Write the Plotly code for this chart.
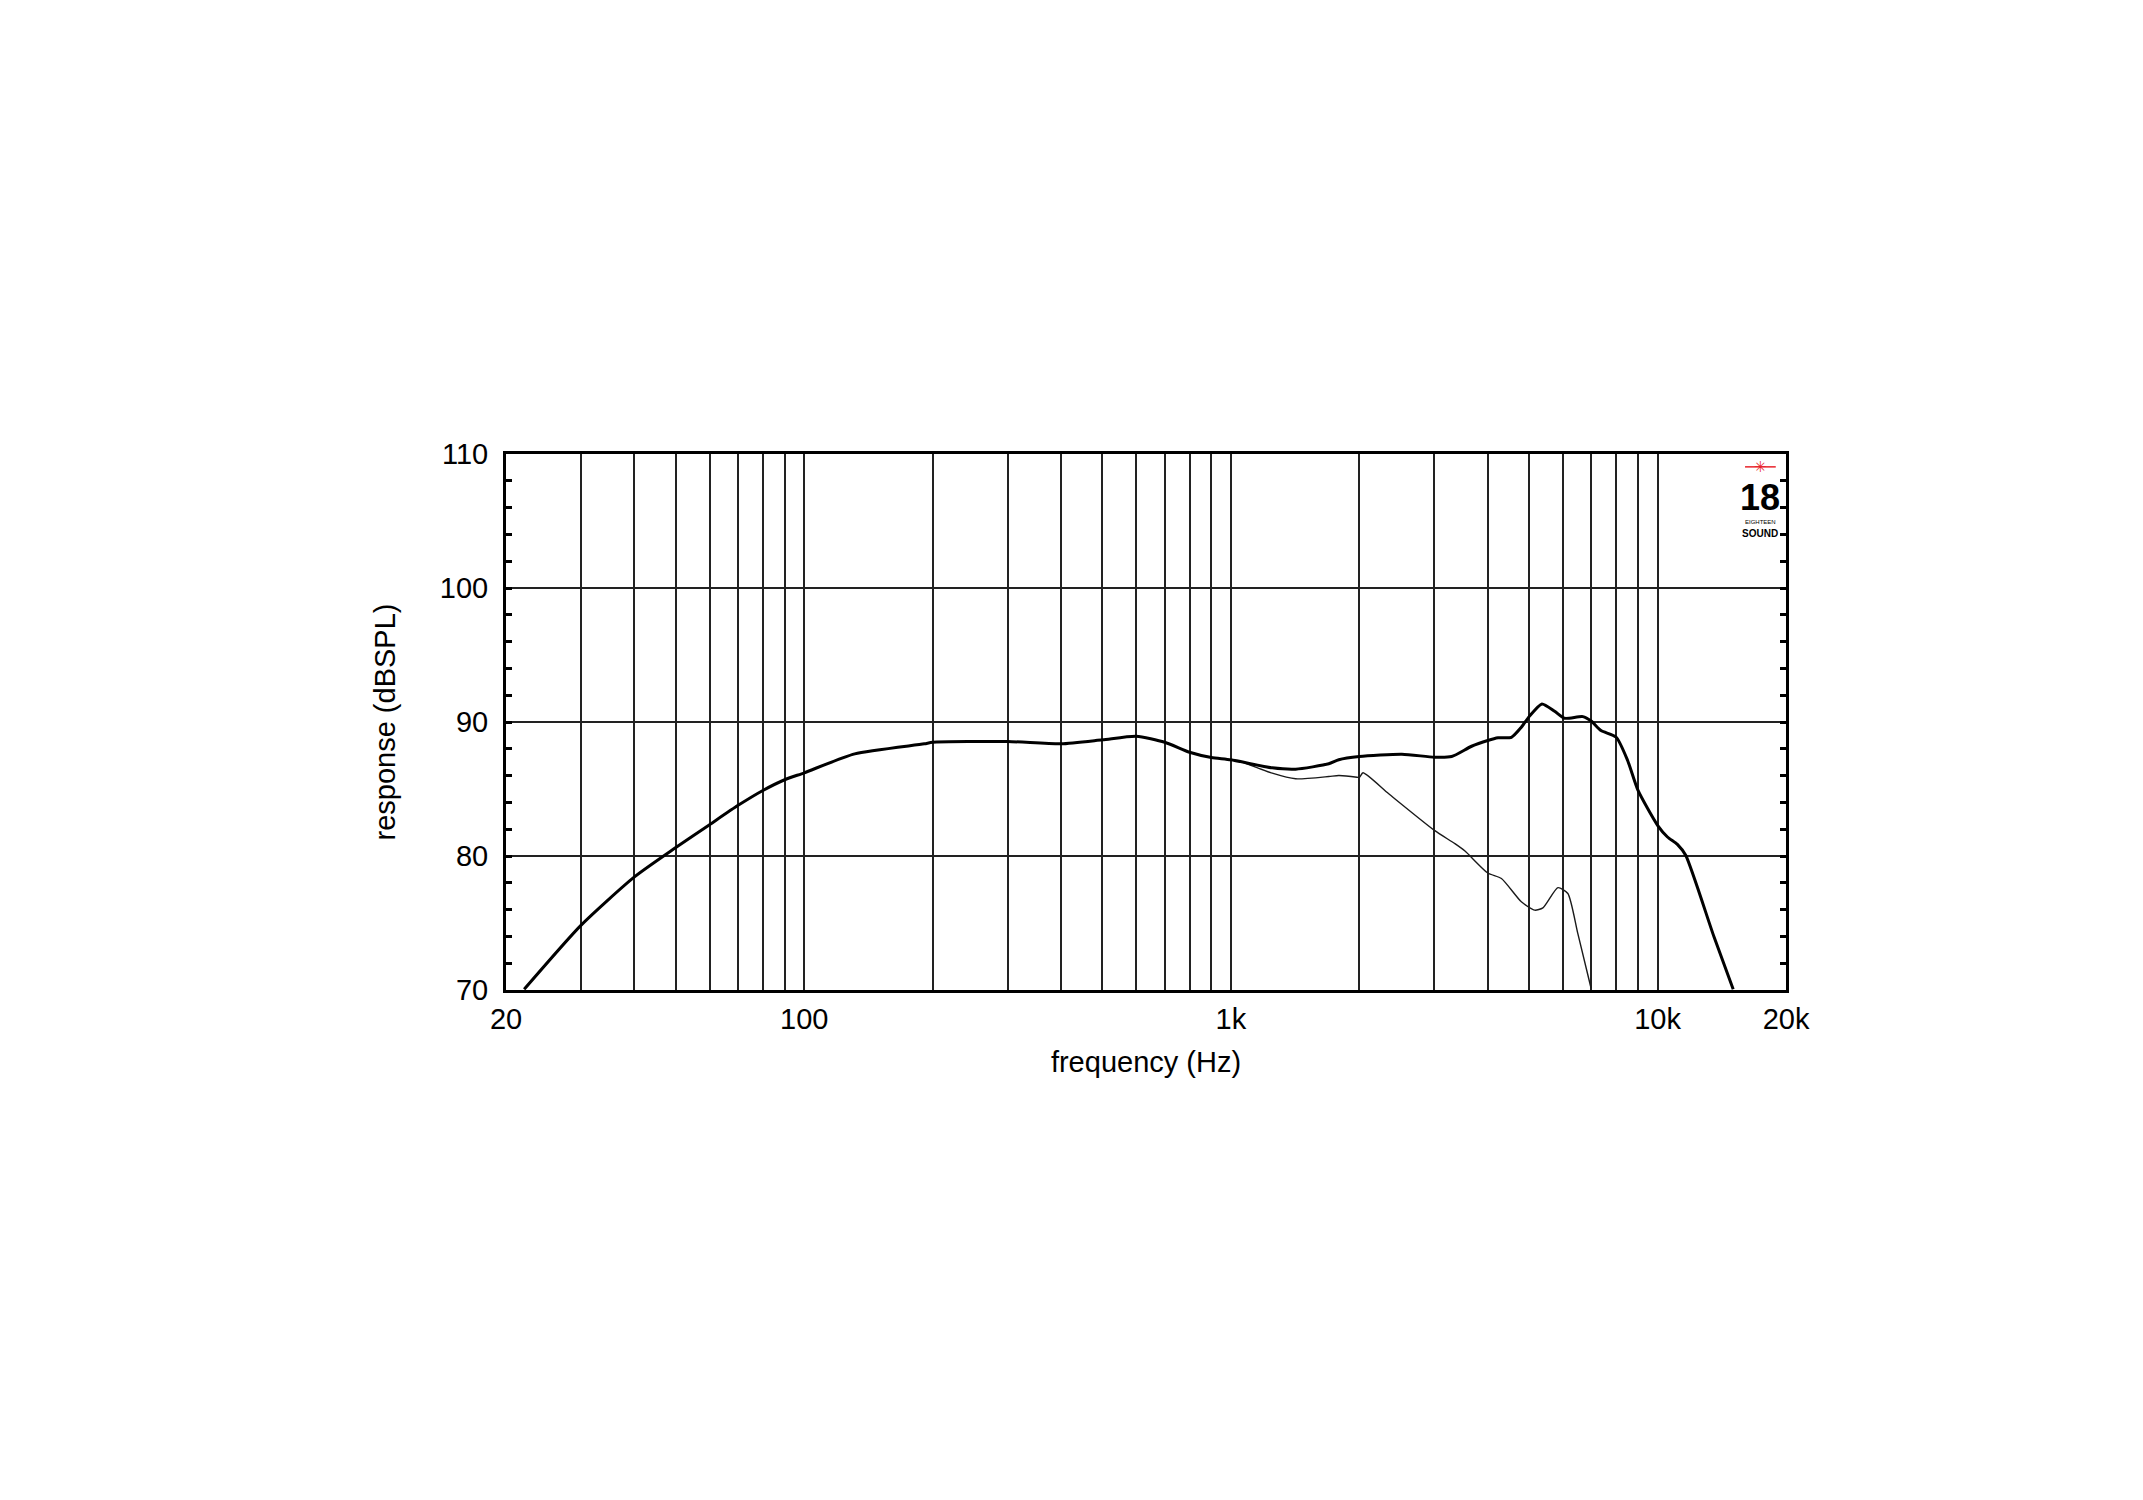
import plotly.graph_objects as go

# ---- data ----
freq_main = [22.06, 30, 40, 50, 60, 70, 80, 90, 100, 131.3, 191.2, 200, 300, 400, 500, 600, 700,
             800, 900, 1000, 1250, 1418, 1696, 1790, 2000, 2517, 3000, 3291, 3665, 4000, 4229,
             4544, 4794, 5000, 5358, 5738, 6054, 6680, 7000, 7370, 8000, 8508, 9000, 10000,
             10550, 11130, 11640, 13560, 15040]
spl_main = [70.05, 74.84, 78.44, 80.63, 82.34, 83.78, 84.89, 85.69, 86.21, 87.62, 88.37, 88.49,
            88.54, 88.37, 88.67, 88.94, 88.49, 87.74, 87.35, 87.18, 86.58, 86.48, 86.88, 87.18,
            87.42, 87.60, 87.37, 87.42, 88.19, 88.62, 88.82, 88.86, 89.61, 90.40, 91.35, 90.80,
            90.28, 90.40, 90.05, 89.36, 88.86, 87.13, 84.89, 82.29, 81.42, 80.87, 80.05, 73.97,
            70.05]

freq_thin = [1046, 1250, 1418, 1696, 1790, 1975, 2000, 2040, 2344, 3000, 3350, 3537, 4000, 4306,
             4794, 5152, 5386, 5842, 6163, 6502, 6985]
spl_thin = [87.10, 86.18, 85.76, 85.93, 86.01, 85.88, 85.85, 86.21, 84.64, 81.91, 80.92, 80.37,
            78.73, 78.32, 76.58, 75.96, 76.13, 77.64, 77.20, 74.22, 70.13]

x_tickvals = [20, 100, 1000, 10000, 20000]
x_ticktext = ["20", "100", "1k", "10k", "20k"]
x_gridvals = [30, 40, 50, 60, 70, 80, 90, 200, 300, 400, 500, 600, 700, 800, 900,
              2000, 3000, 4000, 5000, 6000, 7000, 8000, 9000]
y_tickvals = [70, 80, 90, 100, 110]

FONT = "Liberation Sans, Arial, Helvetica, sans-serif"
NARROW = "Liberation Sans Narrow, Arial Narrow, Liberation Sans, sans-serif"

fig = go.Figure()
fig.add_trace(go.Scatter(x=freq_thin, y=spl_thin, mode="lines",
                         line=dict(color="#1a1a1a", width=1.4, shape="spline", smoothing=0.6),
                         showlegend=False, hoverinfo="skip"))
fig.add_trace(go.Scatter(x=freq_main, y=spl_main, mode="lines",
                         line=dict(color="#000000", width=3, shape="spline", smoothing=0.6),
                         showlegend=False, hoverinfo="skip"))

fig.update_layout(
    width=2143, height=1500,
    paper_bgcolor="white", plot_bgcolor="white",
    margin=dict(l=498, r=365, t=446, b=518, autoexpand=False),
    font=dict(family=FONT, size=29, color="black"),
    xaxis=dict(
        type="log", range=[1.30103, 4.30103],
        tickmode="array", tickvals=x_tickvals, ticktext=x_ticktext,
        showgrid=True, gridcolor="#222222", gridwidth=1.5,
        ticks="", ticklabelstandoff=1,
        showline=True, linecolor="black", linewidth=3, mirror=True,
        minor=dict(tickmode="array", tickvals=x_gridvals, showgrid=True,
                   gridcolor="#222222", gridwidth=1.5, ticks=""),
        title=dict(text="frequency (Hz)", font=dict(size=29), standoff=18),
        zeroline=False,
    ),
    yaxis=dict(
        range=[70, 110], tickmode="array", tickvals=y_tickvals,
        showgrid=True, gridcolor="#222222", gridwidth=1.5,
        ticks="inside", ticklen=6, tickwidth=2.5, tickcolor="black",
        ticklabelstandoff=9,
        showline=True, linecolor="black", linewidth=3, mirror="ticks",
        minor=dict(dtick=2, tick0=70, ticks="inside", ticklen=6, tickwidth=2.5,
                   tickcolor="black", showgrid=False),
        title=dict(text="response (dBSPL)", font=dict(size=29), standoff=36),
        zeroline=False,
    ),
)

# logo (Eighteen Sound)
LX = 0.98
fig.add_shape(type="line", xref="paper", yref="paper", x0=LX - 0.012, x1=LX + 0.012, y0=0.976, y1=0.976,
              line=dict(color="#e8232a", width=1.5))
fig.add_annotation(xref="paper", yref="paper", x=LX, y=0.976, text="✳", showarrow=False,
                   font=dict(size=15, color="#e8232a", family="DejaVu Sans"),
                   xanchor="center", yanchor="middle")
fig.add_annotation(xref="paper", yref="paper", x=LX, y=0.918, text="<b>18</b>", showarrow=False,
                   font=dict(size=36, color="black", family=NARROW),
                   xanchor="center", yanchor="middle")
fig.add_annotation(xref="paper", yref="paper", x=LX, y=0.873, text="EIGHTEEN", showarrow=False,
                   font=dict(size=6, color="black", family=NARROW),
                   xanchor="center", yanchor="middle")
fig.add_annotation(xref="paper", yref="paper", x=LX, y=0.852, text="<b>SOUND</b>", showarrow=False,
                   font=dict(size=10, color="black", family=NARROW),
                   xanchor="center", yanchor="middle")

fig.write_html("out.html")
